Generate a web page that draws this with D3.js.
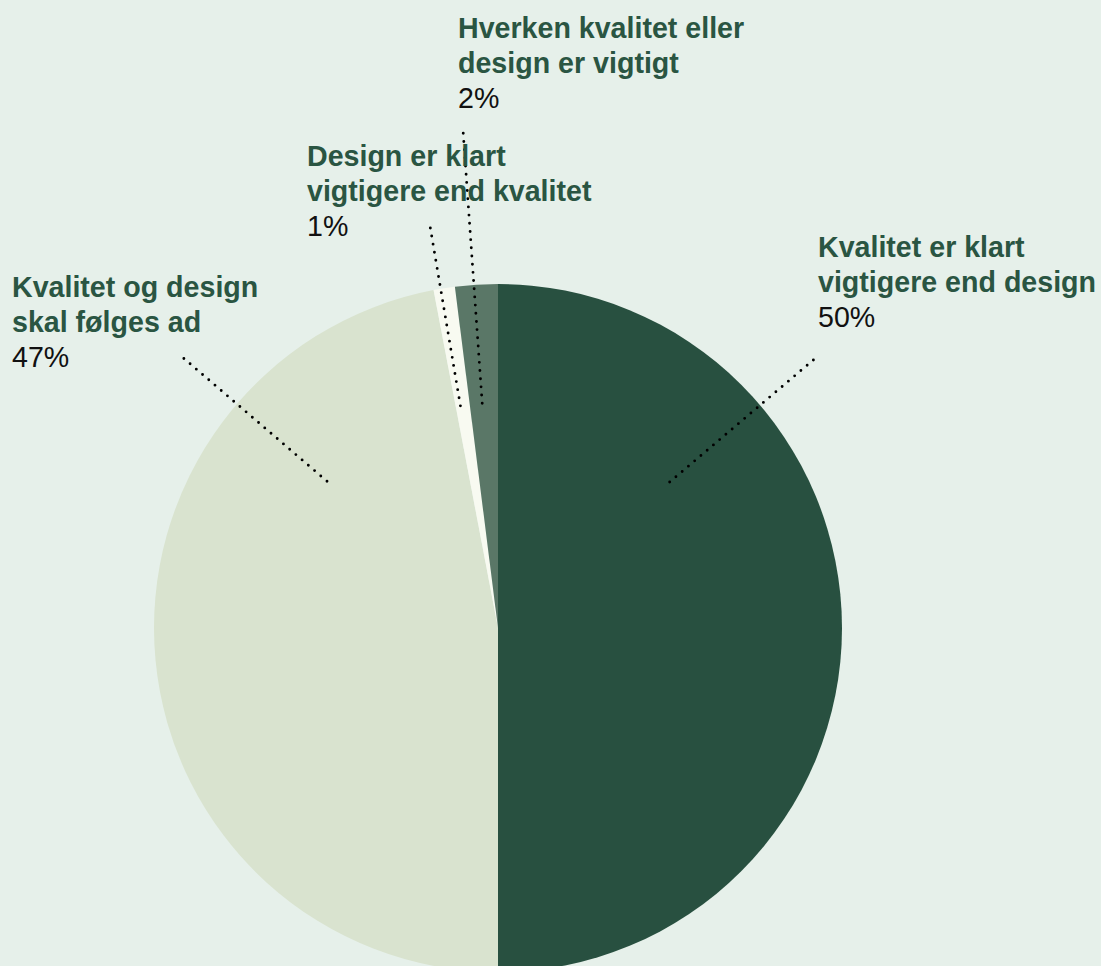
<!DOCTYPE html>
<html>
<head>
<meta charset="utf-8">
<script src="https://cdn.jsdelivr.net/npm/d3@7"></script>
<style>
  html, body { margin: 0; padding: 0; background: #e6f0ea; }
  svg { display: block; }
  .lbl { font-family: "Liberation Sans", Arial, sans-serif; font-size: 28.6px; }
  .lbl .title { font-weight: bold; fill: #2a5542; }
  .lbl .pct { fill: #111; }
</style>
</head>
<body>
<script>
// survey answers, in clockwise order from 12 o'clock
var categories = [
  "Kvalitet er klart vigtigere end design",
  "Kvalitet og design skal følges ad",
  "Design er klart vigtigere end kvalitet",
  "Hverken kvalitet eller design er vigtigt"
];
var values = [50, 47, 1, 2];
var labelLines = [
  ["Kvalitet er klart", "vigtigere end design"],
  ["Kvalitet og design", "skal følges ad"],
  ["Design er klart", "vigtigere end kvalitet"],
  ["Hverken kvalitet eller", "design er vigtigt"]
];
var colors = ["#285040", "#d9e3cf", "#f8faf1", "#5a7767"];

var width = 1101, height = 966;
var cx = 498, cy = 628, radius = 344;

// where each label's text block sits, and where its leader line ends
var labelPos = [
  { x: 818, y: 257, lx: 818, ly: 356 },
  { x: 12, y: 297, lx: 181, ly: 356 },
  { x: 307, y: 166, lx: 430, ly: 226 },
  { x: 458, y: 38, lx: 463, ly: 130 }
];
var lineH = 35;

var svg = d3.select("body").append("svg")
  .attr("width", width)
  .attr("height", height);

var pie = d3.pie().sort(null).value(function(d){ return d; });
var arc = d3.arc().innerRadius(0).outerRadius(radius);

var arcs = pie(values);

var g = svg.append("g").attr("transform", "translate(" + cx + "," + cy + ")");

g.selectAll(".slice")
  .data(arcs)
  .enter().append("path")
  .attr("class", "slice")
  .attr("d", arc)
  .attr("fill", function(d, i){ return colors[i]; });

// leader lines point from inside the pie straight out to the label
var inner = radius * 0.655;
svg.selectAll(".leader")
  .data(labelPos)
  .enter().append("line")
  .attr("class", "leader")
  .attr("x1", function(p){ var a = Math.atan2(p.ly - cy, p.lx - cx); return cx + inner * Math.cos(a); })
  .attr("y1", function(p){ var a = Math.atan2(p.ly - cy, p.lx - cx); return cy + inner * Math.sin(a); })
  .attr("x2", function(p){ return p.lx; })
  .attr("y2", function(p){ return p.ly; })
  .attr("stroke", "#000")
  .attr("stroke-width", 2.9)
  .attr("stroke-linecap", "round")
  .attr("stroke-dasharray", "0,8.2");

var lbl = svg.selectAll(".lbl")
  .data(arcs)
  .enter().append("text")
  .attr("class", "lbl")
  .attr("x", function(d, i){ return labelPos[i].x; })
  .attr("y", function(d, i){ return labelPos[i].y; });

lbl.each(function(d, i){
  var t = d3.select(this);
  labelLines[i].forEach(function(s, k){
    t.append("tspan").attr("class", "title")
      .attr("x", labelPos[i].x)
      .attr("dy", k === 0 ? 0 : lineH)
      .text(s);
  });
  t.append("tspan").attr("class", "pct")
    .attr("x", labelPos[i].x)
    .attr("dy", lineH)
    .text(values[i] + "%");
});
</script>
</body>
</html>
